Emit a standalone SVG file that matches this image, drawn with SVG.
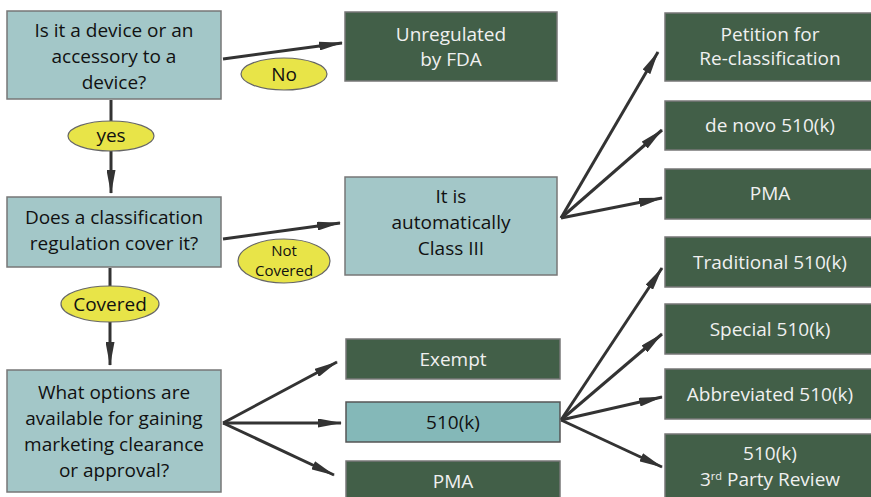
<svg xmlns="http://www.w3.org/2000/svg" width="871" height="497" viewBox="0 0 871 497">
<style>
.q{fill:#a3c7c8;stroke:#777;stroke-width:1.5}
.g{fill:#425f48;stroke:#777;stroke-width:1.5}
.t{fill:#84b8b8;stroke:#555;stroke-width:1.5}
.e{fill:#e8e448;stroke:#666;stroke-width:1.2}
text{font-family:"Open Sans","Noto Sans",sans-serif;font-size:19px;text-anchor:middle}
.dk{fill:#111}
.wt{fill:#f0f0f0}
.lb{font-size:19px;fill:#111}
.c line{stroke:#333;stroke-width:3;marker-end:url(#ah)}
</style>
<defs>
<marker id="ah" markerUnits="userSpaceOnUse" viewBox="0 0 24 9" markerWidth="24" markerHeight="9" refX="23" refY="4.5" orient="auto">
<path d="M0,0 L24,4.5 L0,9 z" fill="#333"/>
</marker>
</defs>
<g class="c" id="connectors">
<line x1="223" y1="59" x2="342" y2="43"/>
<line x1="111" y1="100" x2="111" y2="193"/>
<line x1="223" y1="239" x2="340" y2="223"/>
<line x1="110" y1="268" x2="110" y2="365"/>
<line x1="223" y1="423" x2="337" y2="362"/>
<line x1="223" y1="423" x2="341" y2="423"/>
<line x1="223" y1="423" x2="334" y2="475"/>
<line x1="561" y1="218" x2="658" y2="52"/>
<line x1="561" y1="218" x2="662" y2="130"/>
<line x1="561" y1="218" x2="662" y2="198"/>
<line x1="561" y1="420" x2="662" y2="268"/>
<line x1="561" y1="420" x2="662" y2="334"/>
<line x1="561" y1="420" x2="662" y2="397"/>
<line x1="561" y1="420" x2="662" y2="467"/>
</g>
<g id="q1"><rect class="q" x="7" y="11" width="214" height="88"/>
<text class="dk" x="114" y="37">Is it a device or an</text>
<text class="dk" x="114" y="63">accessory to a</text>
<text class="dk" x="114" y="89">device?</text></g>
<g id="q2"><rect class="q" x="7" y="197" width="214" height="70"/>
<text class="dk" x="114" y="224">Does a classification</text>
<text class="dk" x="114" y="250">regulation cover it?</text></g>
<g id="q3"><rect class="q" x="7" y="370" width="214" height="122"/>
<text class="dk" x="114" y="399">What options are</text>
<text class="dk" x="114" y="425">available for gaining</text>
<text class="dk" x="114" y="451">marketing clearance</text>
<text class="dk" x="114" y="477">or approval?</text></g>
<g id="lno"><ellipse class="e" cx="284" cy="74" rx="43" ry="16"/><text class="lb" x="284" y="81">No</text></g>
<g id="lyes"><ellipse class="e" cx="111" cy="136" rx="43" ry="15"/><text class="lb" x="111" y="142">yes</text></g>
<g id="lnot"><ellipse class="e" cx="284" cy="261" rx="46" ry="22"/><text class="lb" x="284" y="256" style="font-size:15px">Not</text><text class="lb" x="284" y="276" style="font-size:15px">Covered</text></g>
<g id="lcov"><ellipse class="e" cx="110" cy="304" rx="49" ry="18"/><text class="lb" x="110" y="311">Covered</text></g>
<g id="unreg"><rect class="g" x="345" y="12" width="212" height="69"/>
<text class="wt" x="451" y="41">Unregulated</text><text class="wt" x="451" y="66">by FDA</text></g>
<g id="class3"><rect class="q" x="345" y="177" width="212" height="98"/>
<text class="dk" x="451" y="203">It is</text><text class="dk" x="451" y="229">automatically</text><text class="dk" x="451" y="255">Class III</text></g>
<g id="exempt"><rect class="g" x="346" y="339" width="214" height="40"/><text class="wt" x="453" y="366">Exempt</text></g>
<g id="k510"><rect class="t" x="346" y="402" width="214" height="40"/><text class="dk" x="453" y="429">510(k)</text></g>
<g id="pma1"><rect class="g" x="346" y="461" width="214" height="40"/><text class="wt" x="453" y="488">PMA</text></g>
<g id="petition"><rect class="g" x="665" y="13" width="210" height="68"/>
<text class="wt" x="770" y="41">Petition for</text><text class="wt" x="770" y="65">Re-classification</text></g>
<g id="denovo"><rect class="g" x="665" y="101" width="210" height="49"/><text class="wt" x="770" y="132">de novo 510(k)</text></g>
<g id="pma2"><rect class="g" x="665" y="169" width="210" height="50"/><text class="wt" x="770" y="200">PMA</text></g>
<g id="trad"><rect class="g" x="665" y="237" width="210" height="50"/><text class="wt" x="770" y="269">Traditional 510(k)</text></g>
<g id="special"><rect class="g" x="665" y="304" width="210" height="50"/><text class="wt" x="770" y="336">Special 510(k)</text></g>
<g id="abbr"><rect class="g" x="665" y="369" width="210" height="50"/><text class="wt" x="770" y="401">Abbreviated 510(k)</text></g>
<g id="third"><rect class="g" x="665" y="434" width="210" height="70"/>
<text class="wt" x="770" y="460">510(k)</text><text class="wt" x="770" y="486">3<tspan dy="-6" style="font-size:11px">rd</tspan><tspan dy="6"> Party Review</tspan></text></g>
</svg>
